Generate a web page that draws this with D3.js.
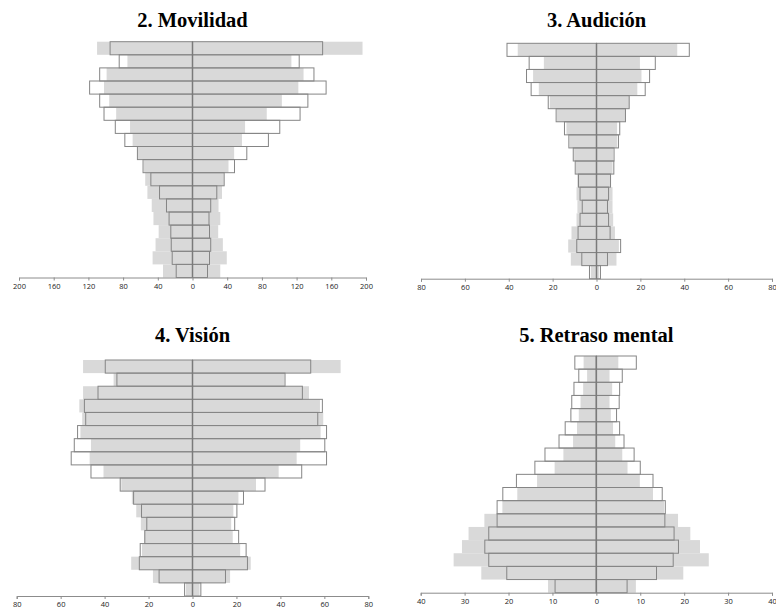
<!DOCTYPE html>
<html>
<head>
<meta charset="utf-8">
<script src="https://cdn.jsdelivr.net/npm/d3@7"></script>
<style>
  body { margin: 0; background: #fff; }
  svg { display: block; }
  .title { font-family: "Liberation Serif", "Times New Roman", serif; font-weight: bold; font-size: 20.5px; }
  .tick text { font-family: "Open Sans", "DejaVu Sans", sans-serif; font-size: 7.5px; fill: #222; }
</style>
</head>
<body>
<svg id="chart" width="776" height="613"></svg>
<script>
// Age groups, oldest at the top
const ages = ["85+", "80-84", "75-79", "70-74", "65-69", "60-64", "55-59", "50-54", "45-49",
  "40-44", "35-39", "30-34", "25-29", "20-24", "15-19", "10-14", "5-9", "0-4"];

// 2. Movilidad
const movGrayLeft = [110, 75, 99, 102, 96, 88, 72, 69, 63, 56, 54.5, 52, 47, 45, 39, 42.6, 46, 34];
const movGrayRight = [196, 114, 128, 122, 103, 85.6, 60.6, 57, 48, 41.5, 36, 34, 30, 32, 29.6, 35, 39.5, 32];
const movLineLeft = [95, 84.5, 107, 118.6, 107, 102, 89, 78, 63.5, 57, 48, 38, 30, 27, 25, 24.5, 23.4, 18.8];
const movLineRight = [150, 123, 140, 154, 133, 124, 100.6, 87.5, 62.6, 48.4, 36.5, 28, 21, 19, 19.6, 21, 19.6, 17.3];

// 3. Audición
const audGrayLeft = [35.9, 24, 28.9, 26.3, 21.3, 18, 13.7, 12.2, 10.2, 9.4, 8.8, 9.1, 8.7, 9.1, 11.4, 12.9, 11.7, 2.6];
const audGrayRight = [36.8, 19.8, 20.5, 18.6, 14.9, 13, 9.4, 9.4, 7.6, 7.3, 6.6, 7.3, 7.3, 7.6, 8.4, 10.2, 9.1, 1.2];
const audLineLeft = [40.8, 30.7, 31.9, 29.8, 22, 18.4, 14.6, 12.6, 10.6, 9.7, 8.2, 7.5, 6.5, 7.5, 8.4, 9, 6.7, 3.2];
const audLineRight = [42.3, 26.8, 24.2, 22.2, 14.9, 13.2, 10.6, 10, 8, 7.9, 6.4, 5.5, 5, 5.5, 6.2, 11, 5, 1.8];

// 4. Visión
const visGrayLeft = [49.8, 35.9, 49.8, 51.5, 50.2, 51, 46.2, 46.8, 40.5, 32.4, 27.6, 25.6, 23.5, 22, 23, 27.9, 18, 3];
const visGrayRight = [67.4, 41.8, 53, 58, 59.5, 58.3, 49, 47.4, 39.2, 28.9, 20.9, 18.6, 17.6, 18.3, 21.7, 26.5, 17.1, 3.2];
const visLineLeft = [39.7, 34.4, 43, 49.2, 48.6, 52.3, 53.8, 55.2, 46.2, 32.9, 26.8, 23.2, 20.8, 21.7, 23.8, 24.2, 15.2, 3.6];
const visLineRight = [53.8, 42.1, 50, 59.1, 57, 61, 60.2, 61, 49.7, 33, 23.2, 20.2, 19.2, 21, 24.4, 25, 15, 3.8];

// 5. Retraso mental
const retGrayLeft = [2.9, 2.1, 3, 3.6, 4, 4.4, 5.3, 7.5, 9.5, 13.5, 18, 21.4, 25.5, 29.1, 30.6, 32.5, 26.2, 11];
const retGrayRight = [5, 3, 3.6, 3, 3.3, 3.8, 4.3, 5.9, 7.1, 9.9, 12.9, 15.4, 18.6, 21.4, 23.6, 25.6, 19.8, 9];
const retLineLeft = [4.9, 4, 5.1, 5.6, 5.8, 7.1, 8.5, 11.7, 14, 18.2, 21.3, 22.6, 22.6, 24.5, 25.4, 24.5, 20.4, 9.4];
const retLineRight = [9.1, 5.9, 5.3, 5.2, 4.6, 5.3, 6.3, 8.6, 10, 12.9, 15, 15.7, 15.6, 17.7, 18.7, 17.5, 13.7, 7];

const panels = [
  { title: "2. Movilidad", max: 200, step: 40, x0: 19, x1: 366, top: 41.7, axisY: 277.5, titleY: 27,
    gl: movGrayLeft, gr: movGrayRight, ll: movLineLeft, lr: movLineRight },
  { title: "3. Audición", max: 80, step: 20, x0: 421, x1: 772, top: 43.3, axisY: 278.7, titleY: 27,
    gl: audGrayLeft, gr: audGrayRight, ll: audLineLeft, lr: audLineRight },
  { title: "4. Visión", max: 80, step: 20, x0: 16.7, x1: 368.3, top: 360, axisY: 596, titleY: 342,
    gl: visGrayLeft, gr: visGrayRight, ll: visLineLeft, lr: visLineRight },
  { title: "5. Retraso mental", max: 40, step: 10, x0: 420.7, x1: 772, top: 356, axisY: 592.7, titleY: 342,
    gl: retGrayLeft, gr: retGrayRight, ll: retLineLeft, lr: retLineRight }
];

const svg = d3.select("#chart");

panels.forEach(p => {
  const x = d3.scaleLinear().domain([-p.max, p.max]).range([p.x0, p.x1]);
  const y = d3.scaleBand().domain(ages).range([p.top, p.axisY]).padding(0);
  const g = svg.append("g");

  // Gray filled bars
  const grayRows = ages.map((a, i) => ({ age: a, left: p.gl[i], right: p.gr[i] }));
  g.selectAll("rect.gray")
    .data(grayRows)
    .join("rect")
    .attr("class", "gray")
    .attr("x", d => x(-d.left))
    .attr("y", d => y(d.age))
    .attr("width", d => x(d.right) - x(-d.left))
    .attr("height", y.bandwidth())
    .attr("fill", "#d9d9d9");

  // Outlined bars, left and right separately
  const lineRows = [];
  ages.forEach((a, i) => {
    lineRows.push({ age: a, from: -p.ll[i], to: 0 });
    lineRows.push({ age: a, from: 0, to: p.lr[i] });
  });
  g.selectAll("rect.line")
    .data(lineRows)
    .join("rect")
    .attr("class", "line")
    .attr("x", d => x(d.from))
    .attr("y", d => y(d.age))
    .attr("width", d => x(d.to) - x(d.from))
    .attr("height", y.bandwidth())
    .attr("fill", "none")
    .attr("stroke", "#858585")
    .attr("stroke-width", 1);

  // Horizontal axis
  const ticks = d3.range(-p.max, p.max + 0.001, p.step);
  const axis = d3.axisBottom(x)
    .tickValues(ticks)
    .tickFormat(d => Math.abs(d))
    .tickSize(3)
    .tickPadding(3);
  const ax = g.append("g")
    .attr("transform", `translate(0,${p.axisY})`)
    .call(axis);
  ax.select(".domain").attr("stroke", "#8c8c8c");
  ax.selectAll(".tick line").attr("stroke", "#8c8c8c");

  // Centre line
  g.append("line")
    .attr("x1", x(0)).attr("x2", x(0))
    .attr("y1", p.top).attr("y2", p.axisY)
    .attr("stroke", "#7a7a7a")
    .attr("stroke-width", 1.5);

  // Title
  g.append("text")
    .attr("class", "title")
    .attr("x", (p.x0 + p.x1) / 2)
    .attr("y", p.titleY)
    .attr("text-anchor", "middle")
    .text(p.title);
});
</script>
</body>
</html>
